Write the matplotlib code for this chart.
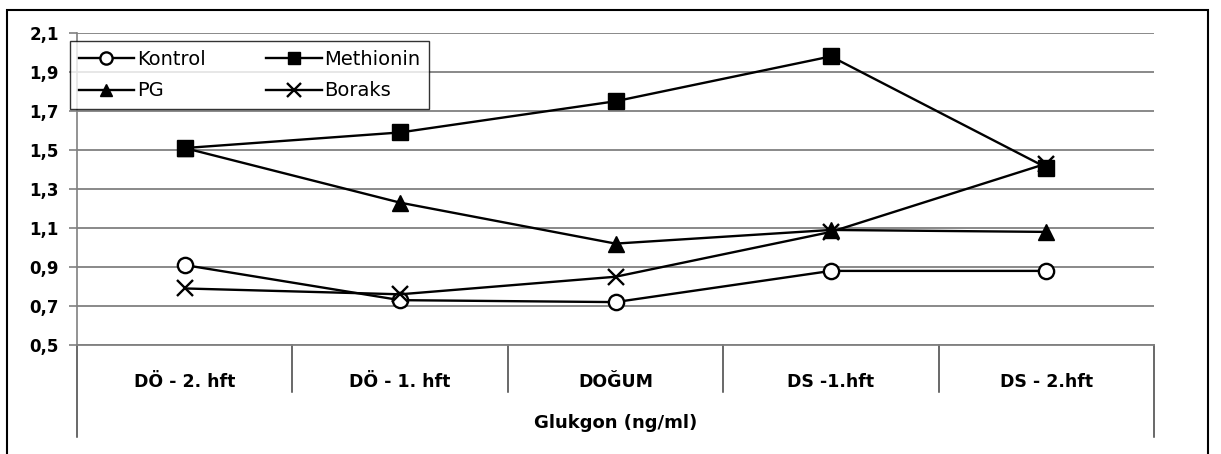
import numpy as np
import matplotlib
matplotlib.use('Agg')
import matplotlib.pyplot as plt
from matplotlib.patches import Rectangle
from matplotlib.transforms import blended_transform_factory

# Glukagon values per period and group
periods = ['DÖ - 2. hft', 'DÖ - 1. hft', 'DOĞUM', 'DS -1.hft', 'DS - 2.hft']
kontrol = [0.91, 0.73, 0.72, 0.88, 0.88]
methionin = [1.51, 1.59, 1.75, 1.98, 1.41]
pg = [1.51, 1.23, 1.02, 1.09, 1.08]
boraks = [0.79, 0.76, 0.85, 1.08, 1.43]
yticks = [0.5, 0.7, 0.9, 1.1, 1.3, 1.5, 1.7, 1.9, 2.1]
ytick_labels = ['0,5', '0,7', '0,9', '1,1', '1,3', '1,5', '1,7', '1,9', '2,1']

plt.rcParams['font.family'] = 'DejaVu Sans'

fig = plt.figure(figsize=(12.21, 4.54), dpi=100)
ax = fig.add_axes([77 / 1221, 1 - 345 / 454, (1154 - 77) / 1221, (345 - 33) / 454])

x = np.arange(len(periods))
lw = 1.7
l_k, = ax.plot(x, kontrol, color='black', lw=lw, marker='o', ms=11, mfc='white', mec='black', mew=1.7, label='Kontrol', zorder=5)
l_m, = ax.plot(x, methionin, color='black', lw=lw, marker='s', ms=11, mfc='black', mec='black', label='Methionin', zorder=4)
l_p, = ax.plot(x, pg, color='black', lw=lw, marker='^', ms=11, mfc='black', mec='black', label='PG', zorder=3)
l_b, = ax.plot(x, boraks, color='black', lw=lw, marker='x', ms=12, mec='black', mew=1.7, label='Boraks', zorder=6)

ax.set_xlim(-0.5, len(periods) - 0.5)
ax.set_ylim(0.5, 2.1)
ax.set_yticks(yticks)
ax.set_yticklabels(ytick_labels, fontsize=12, fontweight='bold')
ax.set_xticks(x)
ax.set_xticklabels(periods, fontsize=12.5, fontweight='bold')
ax.tick_params(axis='x', length=0, pad=20)
ax.tick_params(axis='y', length=6, width=1.2, color='#808080', pad=7)

ax.grid(axis='y', color='#808080', lw=1.3)
ax.set_axisbelow(True)
for side in ['top', 'right']:
    ax.spines[side].set_visible(False)
ax.spines['left'].set_color('#808080')
ax.spines['bottom'].set_color('#808080')
ax.spines['left'].set_linewidth(1.2)
ax.spines['bottom'].set_linewidth(1.3)

# category separators below the axis
trans = blended_transform_factory(ax.transData, ax.transAxes)
for i in range(len(periods) + 1):
    edge = i - 0.5
    bottom = -0.295 if i in (0, len(periods)) else -0.151
    ax.plot([edge, edge], [0, bottom], color='#404040', lw=1.1, transform=trans, clip_on=False)

ax.text(0.5, -0.25, 'Glukgon (ng/ml)', transform=ax.transAxes, ha='center', va='center',
        fontsize=13, fontweight='bold')

# legend rows: Kontrol/Methionin, PG/Boraks
leg = ax.legend([l_k, l_p, l_m, l_b], ['Kontrol', 'PG', 'Methionin', 'Boraks'],
                loc='upper left', bbox_to_anchor=(70 / 1221, 1 - 41 / 454), bbox_transform=fig.transFigure,
                ncol=2, fontsize=14, frameon=True, fancybox=False, edgecolor='black',
                handlelength=2.85, handletextpad=0.15, columnspacing=3.1, labelspacing=0.65,
                borderpad=0.45, borderaxespad=0, markerscale=0.8)
leg.get_frame().set_linewidth(1.0)
leg.set_zorder(10)

# chart border
fig.patches.append(Rectangle((7 / 1221, -0.1), (1208 - 7) / 1221, 1.1 - 10 / 454, transform=fig.transFigure,
                             fill=False, edgecolor='black', lw=1.5, clip_on=False))

fig.savefig('out.png', dpi=100, facecolor='white')
